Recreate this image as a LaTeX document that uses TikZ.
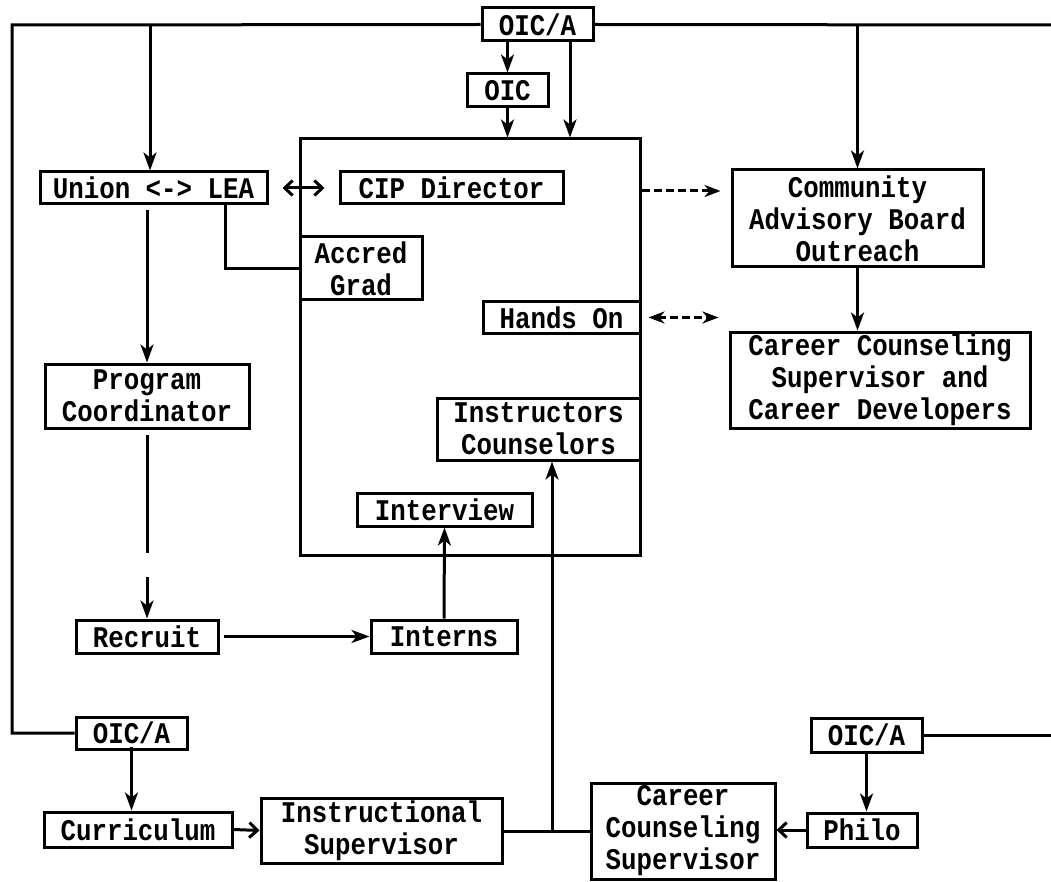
\documentclass[tikz,border=0pt]{standalone}
\usepackage{fontspec}
\newfontfamily\tw{Liberation Mono}[FakeStretch=0.86]
\usetikzlibrary{arrows.meta}

\begin{document}
\begin{tikzpicture}[x=1pt,y=-1pt,line width=3pt,
  box/.style={draw,rectangle,inner sep=0pt,align=center,
    font=\tw\bfseries\fontsize{30}{32}\selectfont},
  arr/.style={-{Stealth[length=18pt,width=13pt,inset=5pt]}},
  dasharr/.style={dash pattern=on 8pt off 4pt,-{Stealth[length=16pt,width=12pt,inset=5pt]}},
  dashboth/.style={dash pattern=on 8pt off 4pt,{Stealth[length=16pt,width=12pt,inset=5pt]}-{Stealth[length=16pt,width=12pt,inset=5pt]}},
  barb/.style={-{Straight Barb[length=8pt,width=15pt]}},
  barbboth/.style={{Straight Barb[length=8pt,width=15pt]}-{Straight Barb[length=8pt,width=15pt]}}]
\useasboundingbox (0,0) rectangle (1051,882);

% central programme block
\node[box,minimum width=340,minimum height=416] (big) at (470,347) {};

% boxes
\node[box,minimum width=111,minimum height=33] (topA) at (537.5,24.5) {OIC/A};
\node[box,minimum width=81,minimum height=33] (oic) at (507.5,90.5) {OIC};
\node[box,minimum width=227,minimum height=32] (union) at (153.5,188) {Union <-> LEA};
\node[box,minimum width=223,minimum height=32] (cip) at (451.5,188) {CIP Director};
\node[box,minimum width=122,minimum height=63] (accred) at (361,268.5) {Accred\\Grad};
\node[box,minimum width=251,minimum height=97] (comm) at (857.5,218.5) {Community\\Advisory Board\\Outreach};
\node[box,minimum width=157,minimum height=31] (hands) at (561.5,317.5) {Hands On};
\node[box,minimum width=300,minimum height=96] (ccsd) at (880,380) {Career Counseling\\Supervisor and\\Career Developers};
\node[box,minimum width=203,minimum height=62] (instr) at (538.5,429) {Instructors\\Counselors};
\node[box,minimum width=175,minimum height=33] (interview) at (444.5,509.5) {Interview};
\node[box,minimum width=204,minimum height=64] (prog) at (147,396) {Program\\Coordinator};
\node[box,minimum width=142,minimum height=33] (recruit) at (147,636.5) {Recruit};
\node[box,minimum width=146,minimum height=33] (interns) at (444,636.5) {Interns};
\node[box,minimum width=111,minimum height=32] (oicA2) at (131.5,733) {OIC/A};
\node[box,minimum width=188,minimum height=35] (curr) at (138,829.5) {Curriculum};
\node[box,minimum width=241,minimum height=65] (isup) at (381.5,830.5) {Instructional\\Supervisor};
\node[box,minimum width=184,minimum height=96] (csup) at (683,831) {Career\\Counseling\\Supervisor};
\node[box,minimum width=110,minimum height=34] (philo) at (862,830) {Philo};
\node[box,minimum width=111,minimum height=34] (oicA3) at (866.5,735) {OIC/A};

% bus lines from the top OIC/A
\coordinate (busL) at (12,25);
\coordinate (busR) at (1051,25);
\coordinate (busU) at (150,25);
\draw (topA.west) -- (busL) |- (oicA2.west);
\draw (topA.east) -- (busR);
\draw[arr] (busU) -- (busU |- union.north);
\draw[arr] (comm.north |- busR) -- (comm.north);
\draw[arr] (topA.south -| oic.north) -- (oic.north);
\draw[arr] (oic.south) -- (oic.south |- big.north);
\draw[arr] (topA.south -| 570,0) -- (big.north -| 570,0);

% left column
\draw[barbboth] ([xshift=14pt]union.east) -- ([xshift=-14pt]cip.west);
\draw ([xshift=71.5pt]union.south) |- (accred.west);
\draw[arr] (prog.north |- 0,210) -- (prog.north);
\draw[arr,dash pattern=on 118pt off 24pt] (prog.south |- 0,435) -- (recruit.north);
\draw[arr] ([xshift=4pt]recruit.east) -- (interns.west);
\draw[arr] (interns.north) -- (interview.south);

% right column
\draw[dasharr] (big.east |- 0,191) -- ([xshift=-10pt]comm.west |- 0,191);
\draw[dashboth] ([xshift=7pt]hands.east) -- ([xshift=-10pt]ccsd.west |- hands.east);
\draw[arr] (comm.south) -- (comm.south |- ccsd.north);

% bottom row
\draw[arr] ([yshift=4pt]oicA2.south) -- (oicA2.south |- curr.north);
\draw[barb] (curr.east) -- (isup.west);
\coordinate (junc) at (552,831);
\draw (isup.east |- junc) -- (csup.west |- junc);
\draw[arr] (junc) -- (junc |- instr.south);
\draw[barb] (philo.west) -- (csup.east |- philo.west);
\draw[arr] (oicA3.south) -- (oicA3.south |- philo.north);
\draw (oicA3.east) -- (1051,735);
\end{tikzpicture}
\end{document}
